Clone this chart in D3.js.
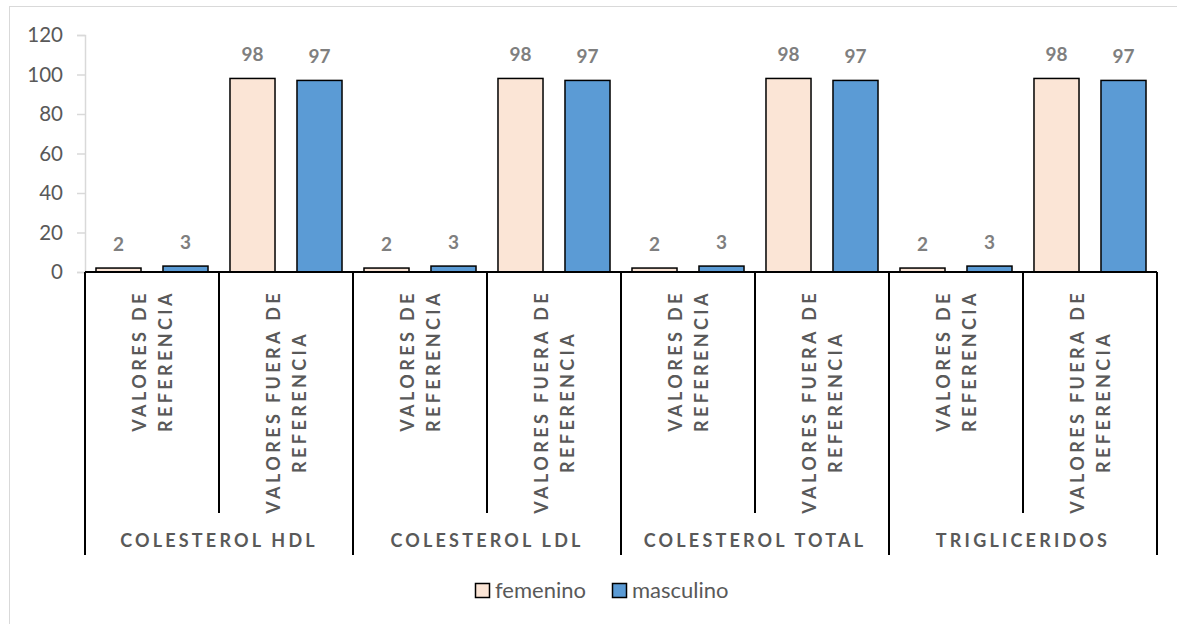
<!DOCTYPE html>
<html>
<head>
<meta charset="utf-8">
<script src="https://cdn.jsdelivr.net/npm/d3@7/dist/d3.min.js"></script>
<style>
  html, body { margin: 0; padding: 0; background: #fff; }
  svg { display: block; }
  text { font-family: "Lato", "Open Sans", sans-serif; }
</style>
</head>
<body>
<svg id="chart" width="1177" height="624"></svg>
<script>
// Lipid profile results by sex, grouped by test and by reference range
const groups = ["COLESTEROL HDL", "COLESTEROL LDL", "COLESTEROL TOTAL", "TRIGLICERIDOS"];
const subcategories = ["VALORES DE REFERENCIA", "VALORES FUERA DE REFERENCIA"];
const seriesNames = ["femenino", "masculino"];
const femenino  = [2, 98, 2, 98, 2, 98, 2, 98];
const masculino = [3, 97, 3, 97, 3, 97, 3, 97];
const yTicks = [0, 20, 40, 60, 80, 100, 120];

const colors = { femenino: "#fbe5d6", masculino: "#5b9bd5" };
const seriesValues = { femenino, masculino };

const svg = d3.select("#chart");
const W = 1177, H = 624;
const plot = { left: 85, right: 1157, top: 35, bottom: 272 };

// chart frame
svg.append("rect")
  .attr("x", 9.5).attr("y", 6.5)
  .attr("width", W + 20).attr("height", H + 20)
  .attr("fill", "#fff").attr("stroke", "#d9d9d9").attr("stroke-width", 1);

const y = d3.scaleLinear().domain([0, 120]).range([plot.bottom, plot.top]);
const xGroup = d3.scaleBand().domain(groups).range([plot.left, plot.right]).padding(0);
const xSub = d3.scaleBand().domain(subcategories).range([0, xGroup.bandwidth()]).padding(0);
const xSeries = d3.scaleBand().domain(seriesNames).range([0, xSub.bandwidth()])
  .paddingInner(0.328).paddingOuter(0.164);

// y axis
const yAxis = d3.axisLeft(y).tickValues(yTicks).tickSize(8).tickPadding(14);
const gy = svg.append("g").attr("transform", `translate(${plot.left},0)`).call(yAxis);
gy.select(".domain").attr("stroke", "#d9d9d9").attr("stroke-width", 1.5);
gy.selectAll(".tick line").attr("stroke", "#d9d9d9").attr("stroke-width", 1.5);
gy.selectAll(".tick text")
  .attr("fill", "#595959")
  .style("font-size", "20.5px")
  .style("font-family", "Lato, sans-serif");

// flattened rows: one per (group, subcategory)
const rows = [];
groups.forEach((g, gi) => {
  subcategories.forEach((s, si) => {
    const idx = gi * subcategories.length + si;
    rows.push({ group: g, sub: s, idx,
      x0: xGroup(g) + xSub(s),
      values: seriesNames.map(n => ({ name: n, value: seriesValues[n][idx] })) });
  });
});

// bars
const rowG = svg.append("g").selectAll("g").data(rows).join("g")
  .attr("transform", d => `translate(${d.x0},0)`);

rowG.selectAll("rect").data(d => d.values).join("rect")
  .attr("x", d => xSeries(d.name))
  .attr("y", d => y(d.value))
  .attr("width", xSeries.bandwidth())
  .attr("height", d => y(0) - y(d.value))
  .attr("fill", d => colors[d.name])
  .attr("stroke", "#000")
  .attr("stroke-width", 1.5);

// value labels
rowG.selectAll("text.val").data(d => d.values).join("text")
  .attr("class", "val")
  .attr("x", d => xSeries(d.name) + xSeries.bandwidth() / 2)
  .attr("y", d => y(d.value) - 17)
  .attr("text-anchor", "middle")
  .attr("fill", "#7f7f7f")
  .style("font-size", "19px")
  .style("font-weight", "bold")
  .text(d => d.value);

// category axis: baseline and separators
const axisG = svg.append("g").attr("stroke", "#000").attr("stroke-width", 2);
axisG.append("line")
  .attr("x1", plot.left).attr("x2", plot.right)
  .attr("y1", plot.bottom).attr("y2", plot.bottom);

const subEdges = [];
rows.forEach(r => subEdges.push(r.x0));
subEdges.push(plot.right);
const groupEdges = groups.map(g => xGroup(g)).concat([plot.right]);

axisG.selectAll("line.sub").data(subEdges.filter(x => !groupEdges.includes(x))).join("line")
  .attr("class", "sub")
  .attr("x1", d => d).attr("x2", d => d)
  .attr("y1", plot.bottom).attr("y2", 513);
axisG.selectAll("line.grp").data(groupEdges).join("line")
  .attr("class", "grp")
  .attr("x1", d => d).attr("x2", d => d)
  .attr("y1", plot.bottom).attr("y2", 555);

// rotated subcategory labels (two lines, top-aligned block)
const labelTop = 290;
const labelSpacing = 3.4;
const subLabelG = svg.append("g");
rows.forEach(r => {
  const cx = r.x0 + xSub.bandwidth() / 2;
  const words = r.sub.split(" ");
  const lines = [words.slice(0, -1).join(" "), words[words.length - 1]];
  const offsets = [-6, 20];
  const texts = lines.map((ln, i) => subLabelG.append("text")
    .attr("fill", "#595959")
    .style("font-size", "18px")
    .style("font-weight", "bold")
    .style("letter-spacing", labelSpacing + "px")
    .attr("text-anchor", "middle")
    .text(ln));
  const maxLen = d3.max(texts, t => t.node().getComputedTextLength()) - labelSpacing;
  const cy = labelTop + maxLen / 2;
  texts.forEach((t, i) => {
    t.attr("transform", `translate(${cx + offsets[i]},${cy + labelSpacing / 2}) rotate(-90)`);
  });
});

// group labels
svg.append("g").selectAll("text").data(groups).join("text")
  .attr("x", d => xGroup(d) + xGroup.bandwidth() / 2)
  .attr("y", 547)
  .attr("text-anchor", "middle")
  .attr("fill", "#595959")
  .style("font-size", "18px")
  .style("font-weight", "bold")
  .style("letter-spacing", "3.2px")
  .text(d => d);

// legend
const legend = svg.append("g").attr("transform", "translate(475,583)");
const legItems = legend.selectAll("g").data(seriesNames).join("g")
  .attr("transform", (d, i) => `translate(${i * 137},0)`);
legItems.append("rect")
  .attr("x", 0.5).attr("y", 0.5).attr("width", 14).attr("height", 14)
  .attr("fill", d => colors[d]).attr("stroke", "#000").attr("stroke-width", 1.5);
legItems.append("text")
  .attr("x", 20).attr("y", 14.5)
  .attr("fill", "#595959")
  .style("font-size", "22px")
  .text(d => d);
</script>
</body>
</html>
